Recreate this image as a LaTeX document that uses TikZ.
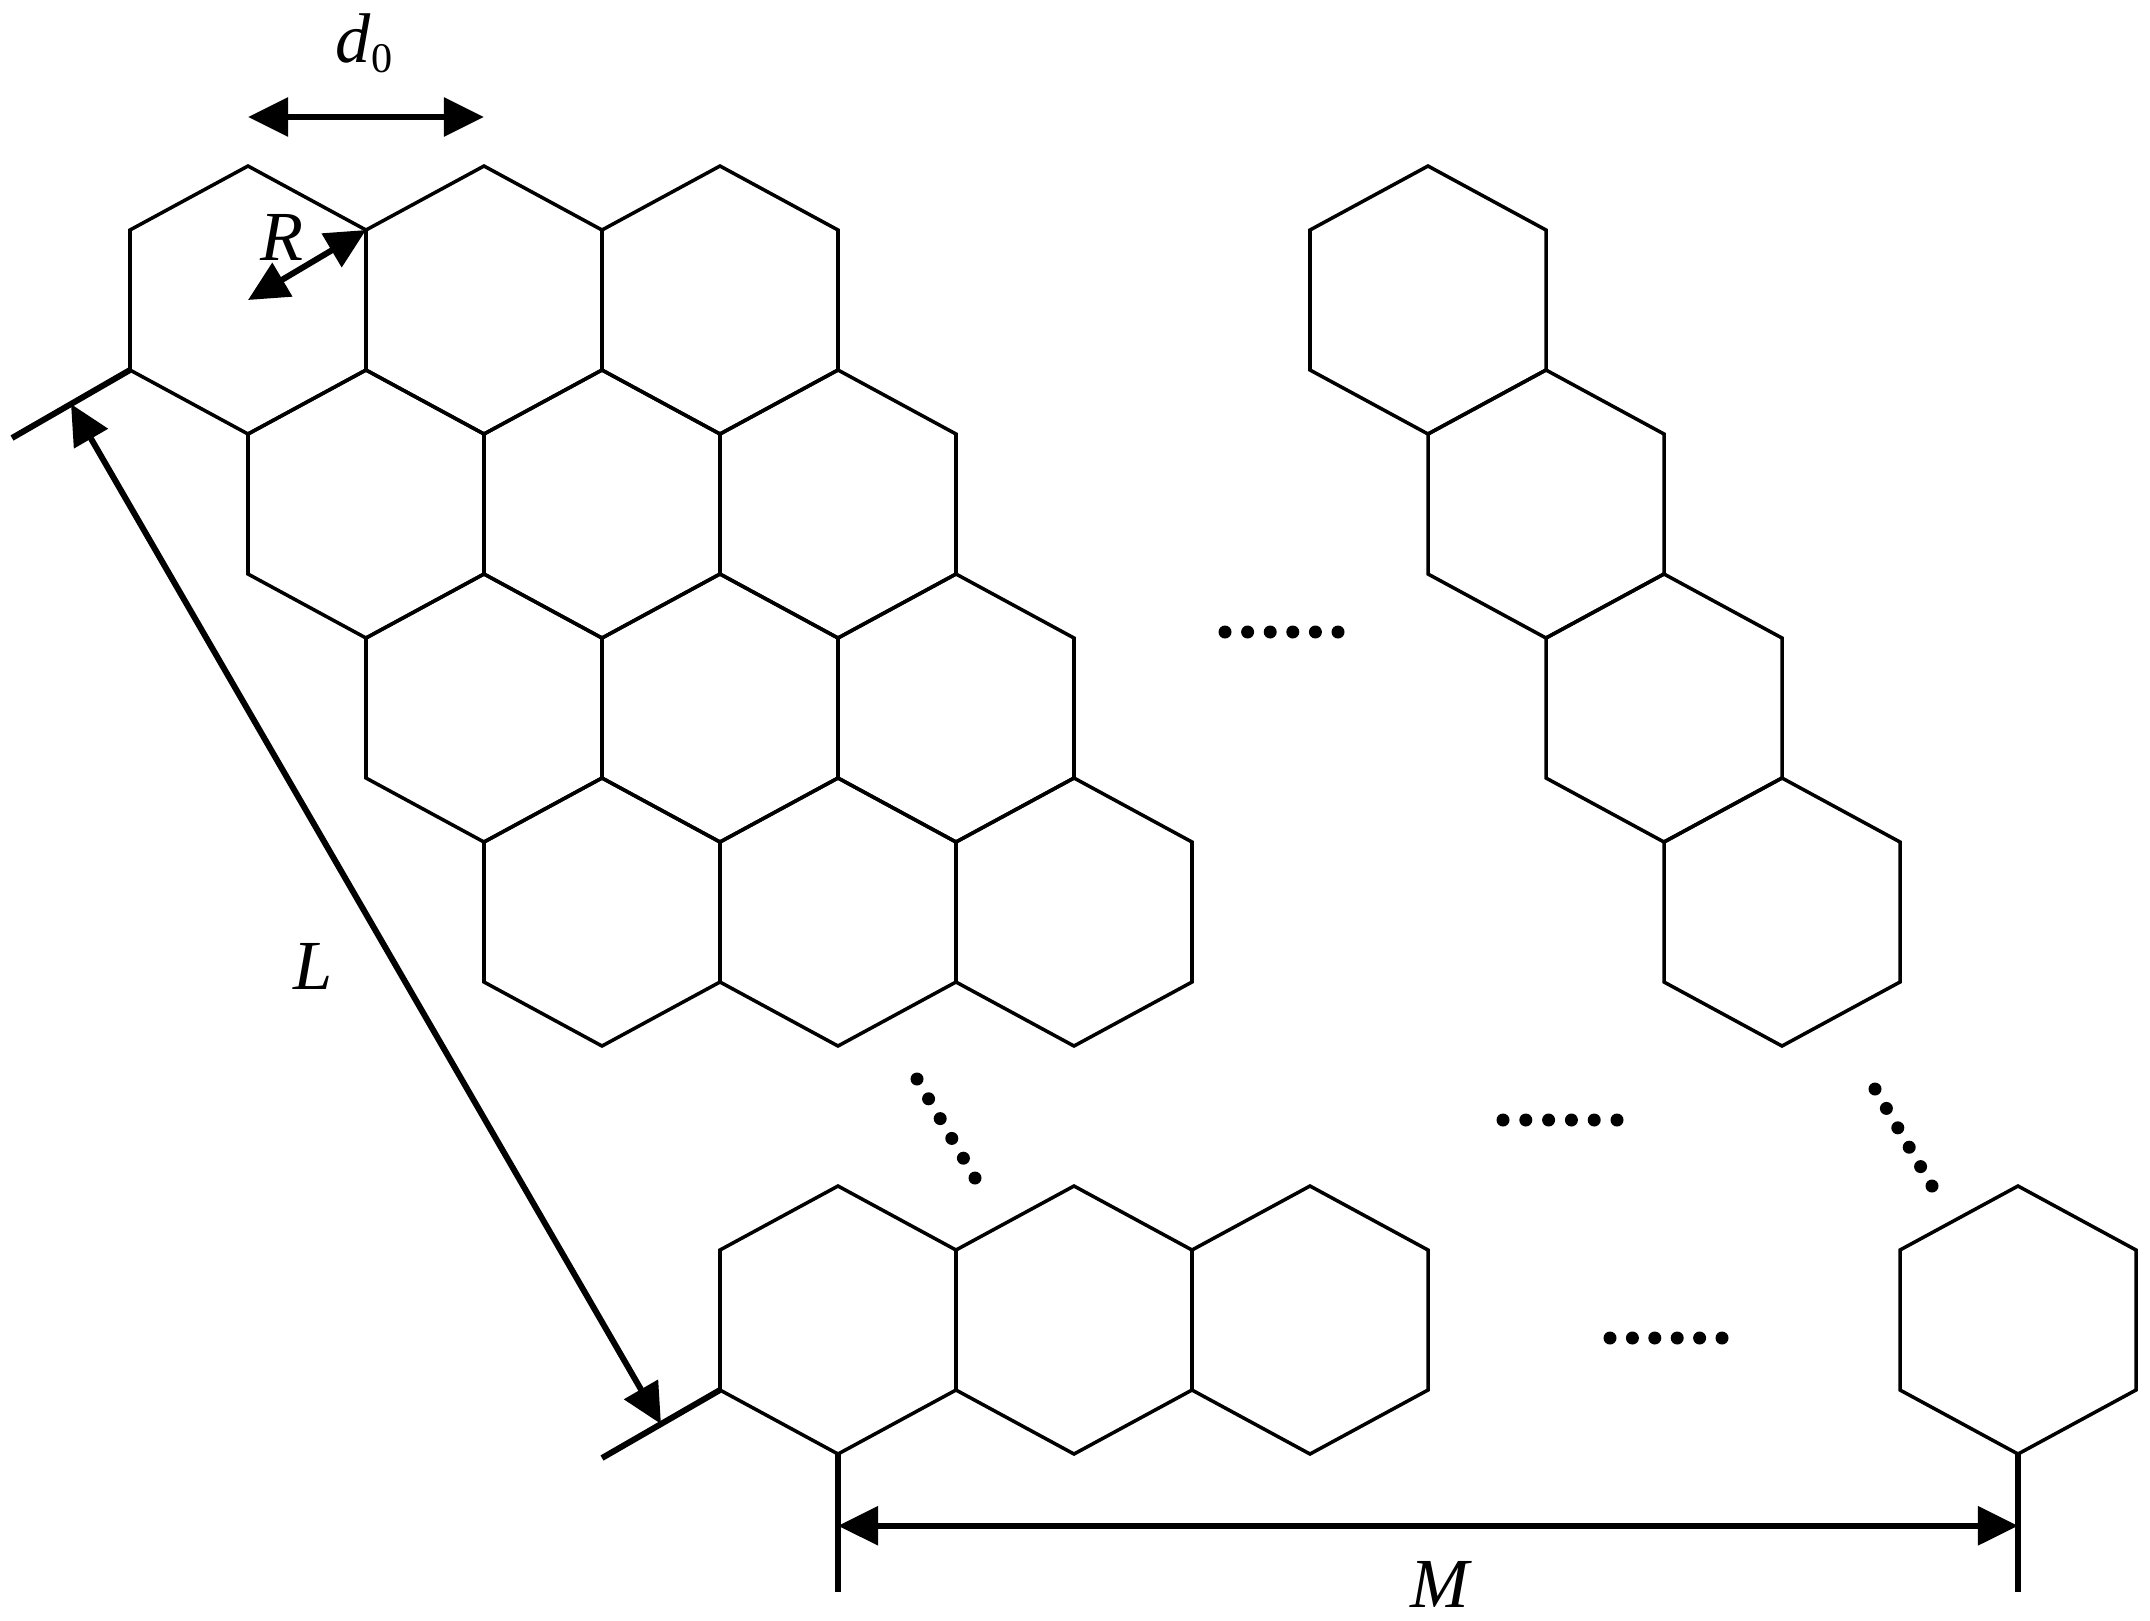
\documentclass[tikz,border=0pt]{standalone}
\usepackage{fontspec}
\setmainfont{Liberation Serif}
\usetikzlibrary{arrows.meta,calc}

\begin{document}
\begin{tikzpicture}[
  x=0.01cm, y=-0.01cm,
  hexline/.style={line width=1pt},
  tickline/.style={line width=1.7pt},
  dimline/.style={{Triangle[length=4mm,width=3.8mm]}-{Triangle[length=4mm,width=3.8mm]}, line width=1.7pt},
  lbl/.style={font=\fontsize{20}{22}\selectfont\itshape, inner sep=0pt},
  dotmark/.style={fill=black},
  hexcell/.pic={
    \draw[hexline] (0,-134) -- (118,-70) -- (118,70) -- (0,134) -- (-118,70) -- (-118,-70) -- cycle;
    \coordinate (-c) at (0,0);
    \coordinate (-ur) at (118,-70);
    \coordinate (-ll) at (-118,70);
    \coordinate (-b) at (0,134);
  }
]
\useasboundingbox (0,0) rectangle (2150,1620);

\foreach \j in {0,...,3}
  \foreach \i in {0,1,2}
    \pic (h\i\j) at ({248+236*\i+118*\j},{300+204*\j}) {hexcell};
\foreach \j in {0,...,3}
  \pic (h5\j) at ({1428+118*\j},{300+204*\j}) {hexcell};
\foreach \i in {0,1,2}
  \pic (h\i5) at ({838+236*\i},1320) {hexcell};
\pic (h55) at (2018,1320) {hexcell};

\foreach \k in {0,...,5} {
  \fill[dotmark] ({1225+22.6*\k},632) circle[radius=0.65mm];
  \fill[dotmark] ({1503+22.8*\k},1120) circle[radius=0.65mm];
  \fill[dotmark] ({1610+22.4*\k},1338) circle[radius=0.65mm];
  \fill[dotmark] ({917+11.6*\k},{1079+19.8*\k}) circle[radius=0.65mm];
  \fill[dotmark] ({1875+11.4*\k},{1089+19.4*\k}) circle[radius=0.65mm];
}

\coordinate (d0a) at ($(h00-c)+(0,-183)$);
\coordinate (d0b) at ($(h10-c)+(0,-183)$);
\draw[dimline] (d0a) -- (d0b);
\node[lbl] (d0lab) at (364,43) {d\raisebox{-0.1cm}{\fontsize{12}{12}\selectfont\upshape 0}};

\draw[dimline] (h00-c) -- (h00-ur);
\node[lbl] (rlab) at (282,237) {R};

\draw[tickline] (h00-ll) -- coordinate (ltop) ++(-118,68);
\draw[tickline] (h05-ll) -- coordinate (lbot) ++(-118,68);
\draw[dimline] (ltop) -- (lbot);
\node[lbl] (llab) at (313,966) {L};

\draw[tickline] (h05-b) -- coordinate[pos=0.52] (mlft) ++(0,138);
\draw[tickline] (h55-b) -- coordinate[pos=0.52] (mrgt) ++(0,138);
\draw[dimline] (mlft) -- (mrgt);
\node[lbl] (mlab) at (1440,1584) {M};
\end{tikzpicture}
\end{document}
